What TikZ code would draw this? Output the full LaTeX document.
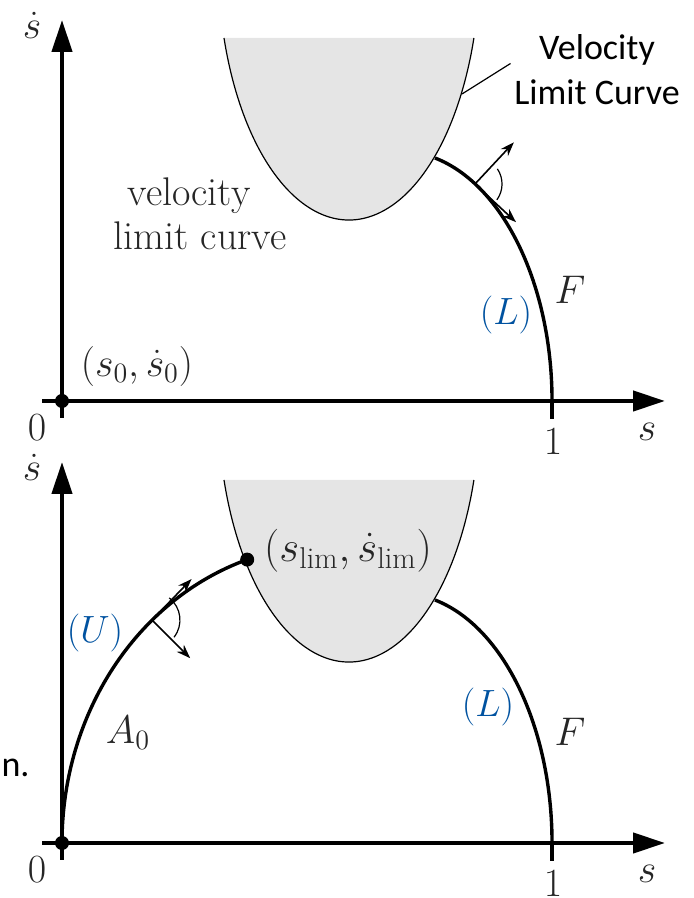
\documentclass[tikz,border=0pt]{standalone}
\usepackage{fix-cm}
\usepackage{fontspec}
\usetikzlibrary{arrows.meta}
\newfontfamily\calfont{Carlito}
\definecolor{limfill}{gray}{0.9}
\definecolor{lblue}{RGB}{0,82,160}
\tikzset{
  axis/.style={line width=2.2pt, -{Triangle[length=16pt, width=10pt]}},
  tick/.style={line width=2pt},
  traj/.style={line width=1.7pt},
  vlc/.style={line width=0.6pt},
  vec/.style={line width=0.8pt, -{Stealth[length=7pt, width=5pt]}},
  ang/.style={line width=0.6pt},
  lbl/.style={font=\fontsize{20}{22}\selectfont, text=black!85, inner sep=0pt},
  cls/.style={font=\fontsize{19}{22}\selectfont, text=lblue, inner sep=0pt},
  note/.style={font=\calfont\fontsize{18}{22}\selectfont, inner sep=0pt},
  dot/.style={circle, fill=black, inner sep=0pt, minimum size=7pt},
}

\begin{document}
\begin{tikzpicture}[x=0.5pt, y=0.5pt]
  \useasboundingbox (0,0) rectangle (694,898);
  % what both panels share
  \foreach \oy/\p in {497/t, 55/b}{
    \begin{scope}[shift={(62,\oy)}]
      \fill[limfill] (162,363) arc[start angle=197.46, end angle=342.54, x radius=131, y radius=260] -- cycle;
      \draw[vlc] (162,363) arc[start angle=197.46, end angle=342.54, x radius=131, y radius=260];
      \coordinate (yb-\p) at (0,-17);
      \coordinate (yt-\p) at (0,381);
      \coordinate (xb-\p) at (-20,0);
      \coordinate (xt-\p) at (603,0);
      \draw[axis] (yb-\p) -- (yt-\p);
      \draw[axis] (xb-\p) -- (xt-\p);
      \draw[tick] (490,0) -- (490,-18);
      \draw[traj] (373,243) arc[start angle=76.7, end angle=0, x radius=152, y radius=250];
      \node[dot] (o-\p) at (0,0) {};
      \node[lbl] (zero-\p) at (-25,-27) {$0$};
      \node[lbl] (one-\p) at (491,-41) {$1$};
      \node[lbl] (s-\p) at (585,-31) {$s$};
      \node[lbl] (sd-\p) at (-30,376) {$\dot{s}$};
      \node[lbl] (F-\p) at (508,111) {$F$};
    \end{scope}
  }
  % top panel
  \begin{scope}[shift={(62,497)}]
    \coordinate (nbt) at (413,217);
    \coordinate (ntt) at (451.9,258.7);
    \coordinate (ttt) at (454,178.8);
    \draw[vec] (nbt) -- (ntt);
    \draw[vec] (nbt) -- (ttt);
    \draw[ang] (435.4,232.1) arc[start angle=34, end angle=-36, radius=27];
    \coordinate (vlcpt) at (400,307);
    \coordinate (vlcend) at (448.5,337.5);
    \draw[vlc] (vlcpt) -- (vlcend);
    \node[note, anchor=base] (vlc1) at (535,341) {Velocity};
    \node[note, anchor=base] (vlc2) at (535,296) {Limit Curve};
    \node[lbl, anchor=base] (lc1) at (127,195) {velocity};
    \node[lbl, anchor=base] (lc2) at (138,151) {limit curve};
    \node[cls] (Lt) at (444,86) {$(L)$};
    \node[lbl] (start) at (75,34) {$(s_0,\dot{s}_0)$};
  \end{scope}
  % bottom panel
  \begin{scope}[shift={(62,55)}]
    \draw[traj] (0,0) arc[start angle=180, end angle=108, x radius=268, y radius=298];
    \node[dot] (lim) at (185.2,283.4) {};
    \node[lbl, font=\fontsize{21.5}{24}\selectfont] (limlbl) at (286,292) {$(s_{\lim},\dot{s}_{\lim})$};
    \coordinate (nbb) at (90,223);
    \coordinate (ntb) at (128.2,184.8);
    \coordinate (ttb) at (129.6,264);
    \draw[vec] (nbb) -- (ntb);
    \draw[vec] (nbb) -- (ttb);
    \draw[ang] (107.2,245.1) arc[start angle=52, end angle=-38, radius=28];
    \node[cls] (U) at (33,210) {$(U)$};
    \node[lbl] (A0) at (66,110) {$A_0$};
    \node[cls] (Lb) at (426,136) {$(L)$};
  \end{scope}
  \node[note, anchor=base east] (ncut) at (30,121) {n.};
\end{tikzpicture}
\end{document}
